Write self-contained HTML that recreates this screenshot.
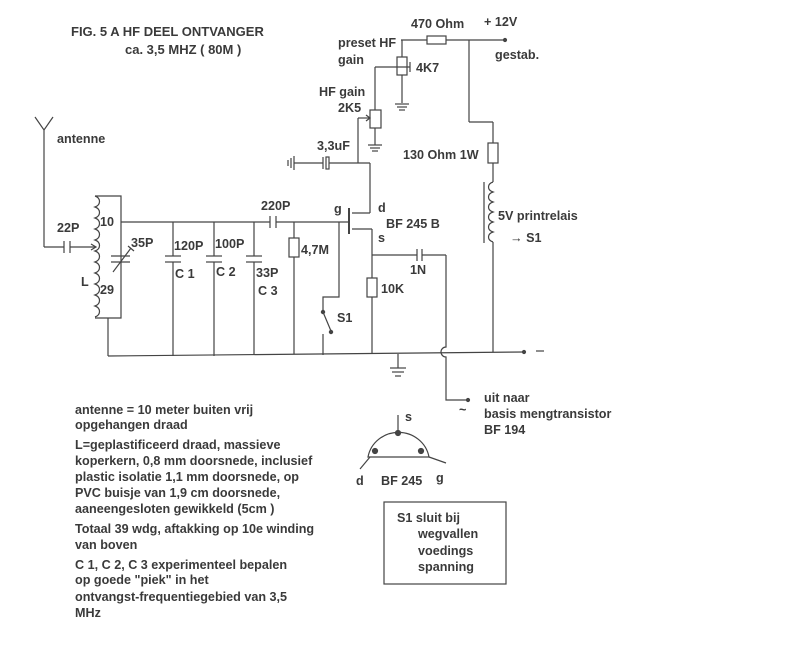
<!DOCTYPE html>
<html><head><meta charset="utf-8"><style>
html,body{margin:0;padding:0;background:#fff;}
svg{display:block;}
text{font-family:"Liberation Sans",sans-serif;font-size:12.6px;fill:#3a3a3a;font-weight:bold;}
.n{font-size:12.6px;}
.t{font-size:13px;}
</style></head><body>
<svg width="800" height="645" viewBox="0 0 800 645" xmlns="http://www.w3.org/2000/svg">
<g stroke="#444" stroke-width="1.2" fill="none">
<line x1="401" y1="40" x2="505" y2="40"/>
<rect x="427" y="36" width="19" height="8" fill="#fff"/>
<circle cx="505" cy="40" r="1.5" fill="#444"/>
<line x1="402" y1="40" x2="402" y2="103"/>
<rect x="397" y="57" width="10" height="18" fill="#fff"/>
<line x1="375" y1="67" x2="410" y2="67"/>
<line x1="410" y1="62" x2="410" y2="72"/>
<line x1="395" y1="104" x2="409" y2="104"/><line x1="397" y1="107" x2="407" y2="107"/><line x1="399" y1="110" x2="405" y2="110"/>
<line x1="375" y1="67" x2="375" y2="145"/>
<rect x="370" y="110" width="11" height="18" fill="#fff"/>
<line x1="358" y1="118" x2="369" y2="118"/><path d="M366 115 L370 118 L366 121" />
<line x1="358" y1="118" x2="358" y2="163"/>
<line x1="368" y1="145" x2="382" y2="145"/><line x1="370" y1="148" x2="380" y2="148"/><line x1="372" y1="151" x2="378" y2="151"/>
<line x1="294" y1="163" x2="323" y2="163"/>
<line x1="329" y1="163" x2="370" y2="163"/>
<line x1="323" y1="157" x2="323" y2="169"/><rect x="326" y="157" width="3" height="12"/>
<line x1="294" y1="156" x2="294" y2="170"/><line x1="291" y1="158" x2="291" y2="168"/><line x1="288" y1="160" x2="288" y2="166"/>
<line x1="370" y1="163" x2="370" y2="213"/>
<line x1="352" y1="213" x2="370" y2="213"/>
<line x1="349" y1="208" x2="349" y2="234" stroke-width="2"/>
<line x1="352" y1="229" x2="372" y2="229"/>
<line x1="372" y1="229" x2="372" y2="354"/>
<rect x="367" y="278" width="10" height="19" fill="#fff"/>
<line x1="372" y1="255" x2="417" y2="255"/>
<line x1="417" y1="249" x2="417" y2="261"/><line x1="422" y1="249" x2="422" y2="261"/>
<line x1="422" y1="255" x2="446" y2="255"/>
<path d="M446 255 L446 347 A4 4 0 0 0 446 357 L446 400 L468 400"/>
<circle cx="468" cy="400" r="1.5" fill="#444"/>
<line x1="469" y1="40" x2="469" y2="122"/>
<line x1="469" y1="122" x2="493" y2="122"/>
<line x1="493" y1="122" x2="493" y2="143"/>
<rect x="488" y="143" width="10" height="20" fill="#fff"/>
<line x1="493" y1="163" x2="493" y2="182"/>
<path d="M493 182 c-6 2 -6 8 0 10 c-6 2 -6 8 0 10 c-6 2 -6 8 0 10 c-6 2 -6 8 0 10 c-6 2 -6 8 0 10 c-6 2 -6 8 0 10"/>
<line x1="484" y1="182" x2="484" y2="243"/>
<line x1="493" y1="242" x2="493" y2="352"/>
<line x1="108" y1="356" x2="524" y2="352"/>
<circle cx="524" cy="352" r="1.5" fill="#444"/>
<line x1="536" y1="351" x2="544" y2="351"/>
<line x1="398" y1="354" x2="398" y2="368"/>
<line x1="390" y1="368" x2="406" y2="368"/><line x1="392" y1="372" x2="404" y2="372"/><line x1="395" y1="376" x2="401" y2="376"/>
<line x1="121" y1="222" x2="270" y2="222"/>
<line x1="276" y1="222" x2="348" y2="222"/>
<line x1="270" y1="216" x2="270" y2="228"/><line x1="276" y1="216" x2="276" y2="228"/>
<line x1="294" y1="222" x2="294" y2="354"/>
<rect x="289" y="238" width="10" height="19" fill="#fff"/>
<path d="M339 222 L339 297 L323 297 L323 312"/>
<circle cx="323" cy="312" r="1.6" fill="#444"/><circle cx="331" cy="332" r="1.6" fill="#444"/>
<line x1="323" y1="312" x2="331" y2="331"/>
<line x1="323" y1="334" x2="323" y2="355"/>
<line x1="173" y1="222" x2="173" y2="256"/><line x1="173" y1="262" x2="173" y2="356"/>
<line x1="165" y1="256" x2="181" y2="256"/><line x1="165" y1="262" x2="181" y2="262"/>
<line x1="214" y1="222" x2="214" y2="256"/><line x1="214" y1="262" x2="214" y2="356"/>
<line x1="206" y1="256" x2="222" y2="256"/><line x1="206" y1="262" x2="222" y2="262"/>
<line x1="254" y1="222" x2="254" y2="256"/><line x1="254" y1="262" x2="254" y2="355"/>
<line x1="246" y1="256" x2="262" y2="256"/><line x1="246" y1="262" x2="262" y2="262"/>
<path d="M95 196 c6 2 6 9 0 11 c6 2 6 9 0 11 c6 2 6 9 0 11 c6 2 6 9 0 11 c6 2 6 9 0 11 c6 2 6 9 0 11 c6 2 6 9 0 11 c6 2 6 9 0 11 c6 2 6 9 0 11 c6 2 6 9 0 11 c6 2 6 9 0 11"/>
<path d="M95 196 L121 196 L121 318 L95 318"/>
<line x1="108" y1="318" x2="108" y2="356"/>
<line x1="111" y1="256" x2="130" y2="256"/><line x1="111" y1="262" x2="130" y2="262"/>
<line x1="113" y1="272" x2="131" y2="248"/><line x1="128" y1="246" x2="134" y2="251"/>
<line x1="44" y1="130" x2="44" y2="247"/>
<path d="M35 117 L44 130 L53 117"/>
<line x1="44" y1="247" x2="64" y2="247"/><line x1="70" y1="247" x2="95" y2="247"/>
<line x1="64" y1="241" x2="64" y2="253"/><line x1="70" y1="241" x2="70" y2="253"/>
<path d="M91 244 L96 247 L91 250"/>
<path d="M368 457 A31 30 0 0 1 429 457 Z"/>
<line x1="398" y1="433" x2="398" y2="415"/>
<circle cx="398" cy="433" r="2.5" fill="#444"/><circle cx="375" cy="451" r="2.5" fill="#444"/><circle cx="421" cy="451" r="2.5" fill="#444"/>
<line x1="370" y1="457" x2="360" y2="469"/><line x1="429" y1="457" x2="446" y2="463"/>
<rect x="384" y="502" width="122" height="82"/>
</g>
<text class="t" x="71" y="36">FIG. 5 A HF DEEL ONTVANGER</text>
<text class="t" x="125" y="54">ca. 3,5 MHZ ( 80M )</text>
<text x="411" y="28">470 Ohm</text>
<text x="484" y="26">+ 12V</text>
<text x="495" y="59">gestab.</text>
<text x="338" y="47">preset HF</text>
<text x="338" y="64">gain</text>
<text x="416" y="72">4K7</text>
<text x="319" y="96">HF gain</text>
<text x="338" y="112">2K5</text>
<text x="317" y="150">3,3uF</text>
<text x="403" y="159">130 Ohm 1W</text>
<text x="498" y="220">5V printrelais</text>
<text x="510" y="242">→ S1</text>
<text x="57" y="143">antenne</text>
<text x="57" y="232">22P</text>
<text x="100" y="226">10</text>
<text x="100" y="294">29</text>
<text x="81" y="286">L</text>
<text x="131" y="247">35P</text>
<text x="261" y="210">220P</text>
<text x="174" y="250">120P</text>
<text x="215" y="248">100P</text>
<text x="175" y="278">C 1</text>
<text x="216" y="276">C 2</text>
<text x="256" y="277">33P</text>
<text x="258" y="295">C 3</text>
<text x="301" y="254">4,7M</text>
<text x="334" y="213">g</text>
<text x="378" y="212">d</text>
<text x="386" y="228">BF 245 B</text>
<text x="378" y="242">s</text>
<text x="410" y="274">1N</text>
<text x="381" y="293">10K</text>
<text x="337" y="322">S1</text>
<text x="459" y="414">~</text>
<text x="484" y="402">uit naar</text>
<text x="484" y="418">basis mengtransistor</text>
<text x="484" y="434">BF 194</text>
<text x="405" y="421">s</text>
<text x="356" y="485">d</text>
<text x="381" y="485">BF 245</text>
<text x="436" y="482">g</text>
<text x="397" y="522">S1 sluit bij</text>
<text x="418" y="538">wegvallen</text>
<text x="418" y="555">voedings</text>
<text x="418" y="571">spanning</text>
<text class="n" x="75" y="414">antenne = 10 meter buiten vrij</text>
<text class="n" x="75" y="429">opgehangen draad</text>
<text class="n" x="75" y="449">L=geplastificeerd draad, massieve</text>
<text class="n" x="75" y="465">koperkern, 0,8 mm doorsnede, inclusief</text>
<text class="n" x="75" y="481">plastic isolatie 1,1 mm doorsnede, op</text>
<text class="n" x="75" y="497">PVC buisje van 1,9 cm doorsnede,</text>
<text class="n" x="75" y="513">aaneengesloten gewikkeld (5cm )</text>
<text class="n" x="75" y="533">Totaal 39 wdg, aftakking op 10e winding</text>
<text class="n" x="75" y="549">van boven</text>
<text class="n" x="75" y="569">C 1, C 2, C 3 experimenteel bepalen</text>
<text class="n" x="75" y="584">op goede "piek" in het</text>
<text class="n" x="75" y="601">ontvangst-frequentiegebied van 3,5</text>
<text class="n" x="75" y="617">MHz</text>
</svg>
</body></html>
